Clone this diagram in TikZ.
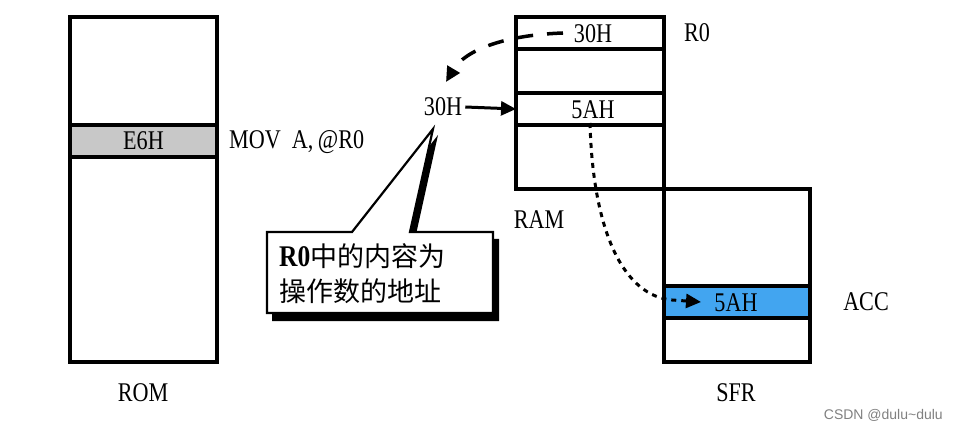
\documentclass[tikz,border=0pt]{standalone}
\usepackage{fontspec}
\usetikzlibrary{arrows.meta}
\newfontfamily\lab[FakeStretch=0.82]{Liberation Serif}
\newfontfamily\labb[FakeStretch=0.85]{Liberation Serif Bold}
\newfontfamily\cjkf{Noto Sans CJK SC}
\newfontfamily\wmf{Liberation Sans}
\definecolor{accblue}{RGB}{66,165,240}
\definecolor{romgray}{RGB}{200,200,200}
\tikzset{
  mem/.style={draw, line width=3.5pt, inner sep=0pt, outer sep=0pt},
  lbl/.style={font=\lab\fontsize{27}{30}\selectfont, inner sep=0pt},
  bigtip/.style={-{Triangle[length=15pt,width=14pt]}},
}
\begin{document}
\begin{tikzpicture}[x=1pt,y=-1pt]
\useasboundingbox (0,0) rectangle (958,430);
% ROM
\node[mem, minimum width=147pt, minimum height=345pt] (rom) at (143.5,189.5) {};
\node[mem, fill=romgray, minimum width=147pt, minimum height=32pt, lbl] (romrow) at (143.5,141) {E6H};
\node[lbl, anchor=west] (mov) at (229,142) {MOV\ \ A,\,@R0};
\node[lbl] (romlbl) at (143,393) {ROM};
% RAM
\node[mem, minimum width=148pt, minimum height=172pt] (ram) at (590,103) {};
\node[mem, minimum width=148pt, minimum height=32pt] (ramr0) at (590,33) {};
\node[lbl] (ramr0t) at (593,34) {30H};
\node[mem, minimum width=148pt, minimum height=32pt] (ramr2) at (590,109) {};
\node[lbl] (ramr2t) at (593,110) {5AH};
\node[lbl, anchor=west] (r0lbl) at (684,33) {R0};
\node[lbl] (ramlbl) at (539,220) {RAM};
% SFR
\node[mem, minimum width=146pt, minimum height=173pt] (sfr) at (737,275.5) {};
\node[mem, fill=accblue, minimum width=146pt, minimum height=32pt] (acc) at (737,302) {};
\node[lbl] (acc5a) at (736,303) {5AH};
\node[lbl] (acclbl) at (866,302) {ACC};
\node[lbl] (sfrlbl) at (736,393) {SFR};
% floating 30H
\node[lbl] (t30) at (443,107) {30H};
\draw[line width=3pt, bigtip] (t30.east) ++(3,0) -- (ramr2.west);
% dashed curve
\coordinate (d0) at (563,33);
\coordinate (d1) at (446,82);
\draw[line width=3.5pt, dash pattern=on 16pt off 14pt, bigtip] (d0) .. controls (505,35) and (465,50) .. (d1);
% dotted curve
\coordinate (p0) at (590,123);
\coordinate (p1) at (701,302);
\draw[line width=3pt, dash pattern=on 5pt off 5pt, bigtip] (p0) .. controls (593,235) and (625,296) .. (672,300) -- (p1);
% callout
\fill[black] (272,239) -- (357,239) -- (438,135) -- (415,239) -- (499,239) -- (499,321) -- (272,321) -- cycle;
\draw[line width=2.2pt, fill=white] (267,232) -- (352,232) -- (433,129) -- (410,232) -- (493,232) -- (493,313) -- (267,313) -- cycle;
\node[font=\cjkf\fontsize{27}{35}\selectfont, align=left, anchor=west, inner sep=0pt] (note) at (279,274)
  {{\labb\fontsize{30}{35}\selectfont R0}中的内容为\\操作数的地址};
% watermark
\node[font=\wmf\fontsize{14}{16}\selectfont, text=gray, anchor=east, inner sep=0pt] (wm) at (943,415) {CSDN @dulu\textasciitilde dulu};
\end{tikzpicture}
\end{document}
